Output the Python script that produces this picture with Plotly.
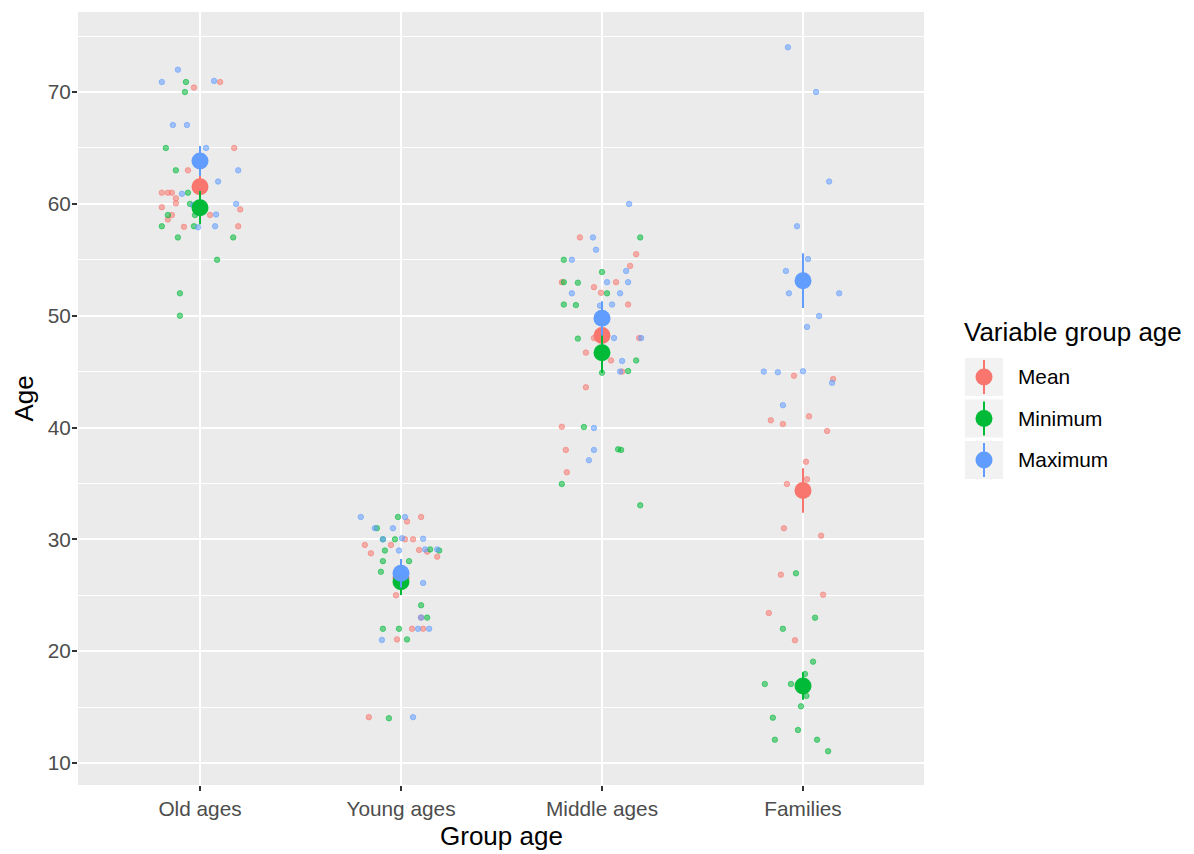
import numpy as np
import plotly.graph_objects as go

# categories and series
groups = ["Old ages", "Young ages", "Middle ages", "Families"]
series = ["Mean", "Minimum", "Maximum"]
colors = ["#F8766D", "#00BA38", "#619CFF"]
fills = ["rgba(248,118,109,0.55)", "rgba(0,186,56,0.55)", "rgba(97,156,255,0.55)"]

# jittered raw points, one list per group (Old, Young, Middle, Families)
mean_age = [
    [70.4, 70.9, 65.0, 63.0, 61.0, 61.0, 61.0, 60.5, 60.05, 59.5, 59.7, 59.0, 58.6, 59.0, 57.95, 58.0],
    [31.6, 32.0, 30.0, 30.0, 29.5, 29.5, 29.05, 28.9, 28.75, 28.45, 25.0, 23.0, 22.0, 22.0, 21.05, 14.1],
    [57.0, 55.5, 54.45, 53.0, 53.0, 52.55, 52.05, 51.0, 48.0, 48.0, 46.7, 46.0, 45.0, 43.6, 40.07, 38.0, 36.0],
    [44.63, 44.34, 40.64, 40.31, 41.0, 39.69, 36.94, 35.37, 34.95, 30.99, 30.33, 26.84, 25.05, 23.41, 20.97],
]
mean_jit = [
    [-0.03, 0.10, 0.17, -0.06, -0.19, -0.16, -0.14, -0.12, -0.12, 0.20, -0.19, -0.14, -0.16, 0.05, -0.08, 0.19],
    [0.03, 0.10, 0.02, 0.06, -0.18, -0.05, 0.09, 0.13, -0.15, 0.18, -0.025, 0.10, 0.055, 0.11, -0.02, -0.16],
    [-0.11, 0.17, 0.14, -0.20, 0.07, -0.04, -0.005, 0.13, -0.04, 0.185, -0.08, 0.045, 0.10, -0.08, -0.20, -0.18, -0.175],
    [-0.045, 0.15, -0.16, -0.10, 0.03, 0.12, 0.015, 0.02, -0.08, -0.095, 0.09, -0.11, 0.10, -0.17, -0.04],
]

min_age = [
    [70.9, 70.0, 65.0, 63.0, 61.0, 60.0, 59.0, 59.0, 58.0, 58.0, 57.0, 57.0, 55.0, 52.0, 50.0],
    [32.0, 31.0, 30.0, 30.0, 29.0, 29.1, 29.0, 28.05, 28.05, 27.1, 24.1, 23.0, 22.0, 22.0, 21.05, 14.0],
    [57.0, 55.0, 53.9, 53.0, 52.95, 52.0, 51.0, 50.95, 47.95, 46.0, 44.9, 45.05, 40.05, 38.05, 38.0, 34.95, 33.04],
    [26.96, 22.99, 22.0, 19.06, 17.96, 17.06, 17.06, 16.0, 15.07, 14.05, 12.95, 12.08, 12.08, 11.05],
]
min_jit = [
    [-0.07, -0.075, -0.17, -0.12, -0.06, -0.05, -0.16, -0.025, -0.19, -0.03, -0.11, 0.165, 0.085, -0.10, -0.10],
    [-0.015, -0.12, -0.09, -0.03, -0.08, 0.145, 0.19, -0.09, 0.04, -0.10, 0.10, 0.13, -0.09, -0.01, 0.03, -0.06],
    [0.19, -0.19, 0.0, -0.19, -0.12, 0.025, -0.19, -0.13, -0.12, 0.17, 0.0, 0.13, -0.09, 0.08, 0.095, -0.20, 0.19],
    [-0.035, 0.06, -0.10, 0.05, 0.01, -0.19, -0.06, 0.017, -0.01, -0.15, -0.025, -0.14, 0.07, 0.125],
]

max_age = [
    [72.0, 70.9, 71.0, 67.05, 67.05, 65.0, 63.0, 62.0, 60.9, 59.9, 60.0, 59.05, 57.9, 58.0],
    [32.0, 32.0, 31.0, 31.0, 30.0, 30.1, 30.05, 29.0, 29.1, 29.1, 26.1, 23.0, 22.0, 22.0, 21.0, 14.1],
    [60.0, 57.0, 55.9, 55.0, 54.0, 53.0, 53.0, 52.0, 52.0, 50.9, 51.0, 48.0, 48.0, 45.95, 45.0, 39.96, 38.0, 37.07],
    [74.0, 70.0, 62.0, 58.0, 55.07, 54.0, 52.0, 52.0, 49.97, 49.0, 45.0, 44.94, 45.03, 44.0, 42.0],
]
max_jit = [
    [-0.11, -0.19, 0.07, -0.135, -0.065, 0.03, 0.19, 0.09, -0.09, -0.035, 0.18, 0.08, -0.01, 0.075],
    [-0.20, 0.02, -0.13, -0.04, -0.09, 0.005, 0.11, -0.01, 0.12, 0.18, 0.11, 0.10, 0.085, 0.14, -0.095, 0.06],
    [0.135, -0.045, -0.03, -0.15, 0.12, 0.025, 0.13, -0.15, 0.09, -0.01, 0.05, 0.06, 0.195, 0.10, 0.09, -0.04, -0.04, -0.065],
    [-0.075, 0.065, 0.13, -0.03, 0.025, -0.085, -0.07, 0.18, 0.08, 0.02, -0.195, -0.125, 0.0, 0.145, -0.10],
]

y_ticks = [10, 20, 30, 40, 50, 60, 70]

all_ages = [mean_age, min_age, max_age]
all_jit = [mean_jit, min_jit, max_jit]

W, H = 1194, 854
L, R, T, B = 78, 270, 12, 69
FONT = "Liberation Sans, Arial, Helvetica, sans-serif"
TITLE_SIZE = 26
TEXT_SIZE = 20.8


def px(x):
    return (x - L) / (W - L - R)


def py(y):
    return (H - B - y) / (H - T - B)


fig = go.Figure()

# jittered points
for s in range(3):
    xs, ys = [], []
    for g in range(4):
        xs += [g + j for j in all_jit[s][g]]
        ys += all_ages[s][g]
    fig.add_trace(go.Scatter(
        x=xs, y=ys, mode="markers", showlegend=False, hoverinfo="skip",
        marker=dict(size=5.5, color=fills[s], line=dict(width=1, color=fills[s])),
    ))

# mean +/- se per group
for s in range(3):
    means = [np.mean(a) for a in all_ages[s]]
    ses = [np.std(a, ddof=1) / np.sqrt(len(a)) for a in all_ages[s]]
    fig.add_trace(go.Scatter(
        x=list(range(4)), y=means, mode="markers", name=series[s], showlegend=False,
        marker=dict(size=17, color=colors[s]),
        error_y=dict(type="data", array=ses, visible=True, color=colors[s], thickness=2, width=0),
    ))

# legend drawn by hand (ggplot look)
shapes, annos = [], []
annos.append(dict(x=px(962), y=py(332), xref="paper", yref="paper", text="Variable group age",
                  showarrow=False, xanchor="left", yanchor="middle", font=dict(size=TITLE_SIZE, color="black")))
row_y = [377, 418.5, 460]
for s in range(3):
    yc = row_y[s]
    shapes.append(dict(type="rect", xref="paper", yref="paper", x0=px(965), x1=px(1003),
                       y0=py(yc + 19), y1=py(yc - 19), fillcolor="#F2F2F2", line=dict(width=0), layer="above"))
    shapes.append(dict(type="line", xref="paper", yref="paper", x0=px(984), x1=px(984),
                       y0=py(yc + 17), y1=py(yc - 17), line=dict(color=colors[s], width=2), layer="above"))
    shapes.append(dict(type="circle", xref="paper", yref="paper", x0=px(984 - 8.5), x1=px(984 + 8.5),
                       y0=py(yc + 8.5), y1=py(yc - 8.5), fillcolor=colors[s], line=dict(width=0), layer="above"))
    annos.append(dict(x=px(1016), y=py(yc), xref="paper", yref="paper", text=series[s], showarrow=False,
                      xanchor="left", yanchor="middle", font=dict(size=TEXT_SIZE, color="black")))

# axis titles
annos.append(dict(x=0.5, y=py(836), xref="paper", yref="paper", text="Group age", showarrow=False,
                  xanchor="center", yanchor="middle", font=dict(size=TITLE_SIZE, color="black")))
annos.append(dict(x=px(23), y=0.5, xref="paper", yref="paper", text="Age", showarrow=False, textangle=-90,
                  xanchor="center", yanchor="middle", font=dict(size=TITLE_SIZE, color="black")))

fig.update_layout(
    width=W, height=H,
    margin=dict(l=L, r=R, t=T, b=B),
    paper_bgcolor="white", plot_bgcolor="#EBEBEB",
    font=dict(family=FONT),
    showlegend=False,
    shapes=shapes, annotations=annos,
    xaxis=dict(
        range=[-0.607, 3.602], tickvals=list(range(4)), ticktext=groups,
        showgrid=True, gridcolor="white", gridwidth=2.2, zeroline=False, showline=False,
        ticks="outside", ticklen=5, tickwidth=1.8, tickcolor="#333333",
        tickfont=dict(size=TEXT_SIZE, color="#4D4D4D"),
    ),
    yaxis=dict(
        range=[8.03, 77.16], tickvals=y_ticks,
        showgrid=True, gridcolor="white", gridwidth=2.2, zeroline=False, showline=False,
        ticks="outside", ticklen=5, tickwidth=1.8, tickcolor="#333333",
        tickfont=dict(size=TEXT_SIZE, color="#4D4D4D"), ticklabelstandoff=-3,
        minor=dict(tickvals=[15, 25, 35, 45, 55, 65, 75], showgrid=True, gridcolor="white", gridwidth=1.1, ticks=""),
    ),
)

fig.write_html("out.html", config={"displayModeBar": False},
               post_script="document.body.style.margin = '0px';")
